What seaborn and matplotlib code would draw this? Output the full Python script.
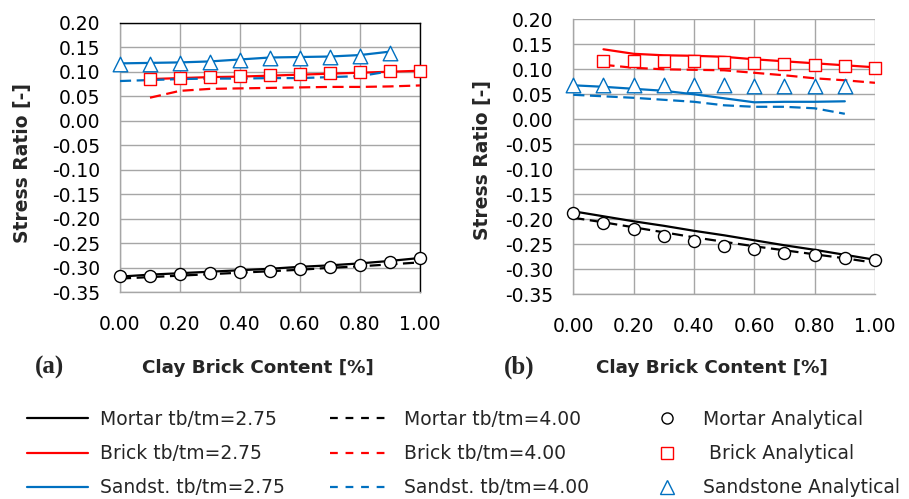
import numpy as np
import pandas as pd
import matplotlib
matplotlib.use("Agg")
import matplotlib.pyplot as plt
import seaborn as sns
from matplotlib.lines import Line2D

# ---------------- data ----------------
x_all = [0.0, 0.1, 0.2, 0.3, 0.4, 0.5, 0.6, 0.7, 0.8, 0.9, 1.0]
x_brick = [0.1, 0.2, 0.3, 0.4, 0.5, 0.6, 0.7, 0.8, 0.9, 1.0]
x_sand = [0.0, 0.1, 0.2, 0.3, 0.4, 0.5, 0.6, 0.7, 0.8, 0.9]

# panel (a)
mortar_275_a = [-0.318, -0.314, -0.311, -0.308, -0.305, -0.302, -0.298, -0.295, -0.291, -0.286, -0.280]
mortar_400_a = [-0.322, -0.319, -0.316, -0.313, -0.310, -0.307, -0.304, -0.300, -0.297, -0.293, -0.289]
mortar_an_a = [-0.317, -0.316, -0.313, -0.310, -0.308, -0.306, -0.302, -0.298, -0.295, -0.289, -0.281]
brick_275_a = [0.085, 0.087, 0.089, 0.090, 0.092, 0.094, 0.096, 0.098, 0.100, 0.102]
brick_400_a = [0.047, 0.061, 0.065, 0.066, 0.067, 0.068, 0.069, 0.069, 0.070, 0.072]
brick_an_a = [0.086, 0.088, 0.090, 0.091, 0.093, 0.095, 0.097, 0.099, 0.101, 0.102]
sand_275_a = [0.117, 0.118, 0.119, 0.121, 0.125, 0.129, 0.130, 0.131, 0.134, 0.141]
sand_400_a = [0.081, 0.083, 0.085, 0.086, 0.086, 0.087, 0.087, 0.089, 0.091, 0.101]
sand_an_a = [0.115, 0.116, 0.118, 0.120, 0.123, 0.127, 0.128, 0.130, 0.133, 0.139]

# panel (b)
mortar_275_b = [-0.184, -0.194, -0.204, -0.213, -0.223, -0.232, -0.242, -0.252, -0.261, -0.271, -0.281]
mortar_400_b = [-0.197, -0.206, -0.216, -0.226, -0.236, -0.245, -0.254, -0.262, -0.270, -0.278, -0.287]
mortar_an_b = [-0.187, -0.207, -0.220, -0.233, -0.243, -0.253, -0.260, -0.267, -0.272, -0.277, -0.281]
brick_275_b = [0.140, 0.131, 0.128, 0.127, 0.125, 0.120, 0.116, 0.112, 0.108, 0.104]
brick_400_b = [0.109, 0.103, 0.100, 0.099, 0.098, 0.093, 0.088, 0.082, 0.078, 0.073]
brick_an_b = [0.116, 0.116, 0.116, 0.116, 0.115, 0.113, 0.111, 0.108, 0.106, 0.103]
sand_275_b = [0.068, 0.065, 0.061, 0.057, 0.050, 0.042, 0.034, 0.035, 0.035, 0.036]
sand_400_b = [0.049, 0.046, 0.043, 0.039, 0.035, 0.028, 0.025, 0.025, 0.022, 0.011]
sand_an_b = [0.069, 0.069, 0.069, 0.069, 0.068, 0.068, 0.067, 0.067, 0.066, 0.066]

x_ticks = [0.0, 0.2, 0.4, 0.6, 0.8, 1.0]
y_ticks = [0.20, 0.15, 0.10, 0.05, 0.00, -0.05, -0.10, -0.15, -0.20, -0.25, -0.30, -0.35]

legend_col1 = ["Mortar tb/tm=2.75", "Brick tb/tm=2.75", "Sandst. tb/tm=2.75"]
legend_col2 = ["Mortar tb/tm=4.00", "Brick tb/tm=4.00", "Sandst. tb/tm=4.00"]
legend_col3 = ["Mortar Analytical", " Brick Analytical", "Sandstone Analytical"]
x_label = "Clay Brick Content [%]"
y_label = "Stress Ratio [-]"
panel_tags = ["(a)", "(b)"]

# ---------------- style ----------------
sns.set_theme(style="white")
plt.rcParams["font.family"] = ["DejaVu Sans"]

BLACK = "#000000"
RED = "#FF0000"
BLUE = "#0070C0"
GRID = "#A6A6A6"
LW = 1.6
DASH = (0, (5, 2.5))
LEG_DASH = (0, (3.5, 3.5))

fig = plt.figure(figsize=(9.09, 4.99), dpi=100)
ax_a = fig.add_axes([120 / 909, 1 - 292.3 / 499, 300 / 909, (292.3 - 22.7) / 499])
ax_b = fig.add_axes([573.3 / 909, 1 - 294.3 / 499, 301.7 / 909, (294.3 - 19.3) / 499])


def draw_panel(ax, m275, m400, man, b275, b400, ban, s275, s400, san):
    line_series = [
        (x_all, m275, BLACK, "-"), (x_all, m400, BLACK, DASH),
        (x_brick, b275, RED, "-"), (x_brick, b400, RED, DASH),
        (x_sand, s275, BLUE, "-"), (x_sand, s400, BLUE, DASH),
    ]
    for xs, ys, c, ls in line_series:
        df = pd.DataFrame({"x": xs, "y": ys})
        sns.lineplot(data=df, x="x", y="y", ax=ax, color=c, linewidth=LW,
                     linestyle=ls, sort=False, errorbar=None, zorder=3)
    marker_series = [
        (x_all, man, BLACK, "o", 75),
        (x_brick, ban, RED, "s", 72),
        (x_sand, san, BLUE, "^", 110),
    ]
    for xs, ys, c, mk, s in marker_series:
        df = pd.DataFrame({"x": xs, "y": ys})
        sns.scatterplot(data=df, x="x", y="y", ax=ax, marker=mk, s=s,
                        facecolor="white", edgecolor=c, linewidth=1.0,
                        zorder=5, clip_on=False)

    ax.set_xlim(0, 1.0)
    ax.set_ylim(-0.35, 0.20)
    ax.set_xticks(x_ticks)
    ax.set_yticks(y_ticks)
    ax.set_xticklabels([f"{v:.2f}" for v in x_ticks])
    ax.set_yticklabels([f"{v:.2f}" for v in y_ticks])
    ax.grid(True, color=GRID, linewidth=1.0, zorder=0)
    ax.set_axisbelow(True)
    ax.tick_params(axis="both", which="major", direction="out", length=5.5,
                   width=1.0, color=GRID, labelsize=13.5, labelcolor="black")
    ax.tick_params(axis="y", pad=9)
    ax.tick_params(axis="x", pad=11)
    ax.set_xlabel("")
    ax.set_ylabel("")
    for side in ("left", "bottom"):
        ax.spines[side].set_color(GRID)
        ax.spines[side].set_linewidth(1.0)


draw_panel(ax_a, mortar_275_a, mortar_400_a, mortar_an_a, brick_275_a, brick_400_a,
           brick_an_a, sand_275_a, sand_400_a, sand_an_a)
draw_panel(ax_b, mortar_275_b, mortar_400_b, mortar_an_b, brick_275_b, brick_400_b,
           brick_an_b, sand_275_b, sand_400_b, sand_an_b)

# panel (a) has a black frame on top/right; panel (b) has none
for side in ("top", "right"):
    ax_a.spines[side].set_color("black")
    ax_a.spines[side].set_linewidth(1.0)
    ax_b.spines[side].set_visible(False)

# axis labels
ax_a.set_ylabel(y_label, fontsize=13.5, fontweight="bold")
ax_a.yaxis.set_label_coords(-0.293, 0.48)
ax_b.set_ylabel(y_label, fontsize=13.5, fontweight="bold")
ax_b.yaxis.set_label_coords(-0.27, 0.49)

fig.text(258 / 909, 1 - 368 / 499, x_label, fontsize=13.2, fontweight="bold",
         ha="center", va="center")
fig.text(712 / 909, 1 - 368 / 499, x_label, fontsize=13.2, fontweight="bold",
         ha="center", va="center")
fig.text(50 / 909, 1 - 367 / 499, panel_tags[0], fontsize=18, fontweight="bold",
         family=["Liberation Serif"], ha="center", va="center")
fig.text(519 / 909, 1 - 367 / 499, panel_tags[1], fontsize=18, fontweight="bold",
         family=["Liberation Serif"], ha="center", va="center")

# legend (proxy handles), one legend per column
col1_handles = [Line2D([], [], color=c, lw=LW) for c in (BLACK, RED, BLUE)]
col2_handles = [Line2D([], [], color=c, lw=LW, linestyle=LEG_DASH) for c in (BLACK, RED, BLUE)]
col3_handles = [
    Line2D([], [], lw=0, marker="o", markersize=8, markerfacecolor="white",
           markeredgecolor=BLACK, markeredgewidth=1.0),
    Line2D([], [], lw=0, marker="s", markersize=8, markerfacecolor="white",
           markeredgecolor=RED, markeredgewidth=1.0),
    Line2D([], [], lw=0, marker="^", markersize=10, markerfacecolor="white",
           markeredgecolor=BLUE, markeredgewidth=1.0),
]
common = dict(loc="upper left", frameon=False, fontsize=13.5, labelspacing=0.81,
              borderpad=0, borderaxespad=0)
top_y = 1 - 410 / 499
fig.legend(col1_handles, legend_col1, bbox_to_anchor=(27 / 909, top_y),
           handlelength=3.25, handletextpad=0.65, **common)
fig.legend(col2_handles, legend_col2, bbox_to_anchor=(330 / 909, top_y),
           handlelength=3.1, handletextpad=0.85, **common)
fig.legend(col3_handles, legend_col3, bbox_to_anchor=(648 / 909, top_y),
           handlelength=2.0, handletextpad=0.95, **common)

fig.savefig("out.png", dpi=100)
